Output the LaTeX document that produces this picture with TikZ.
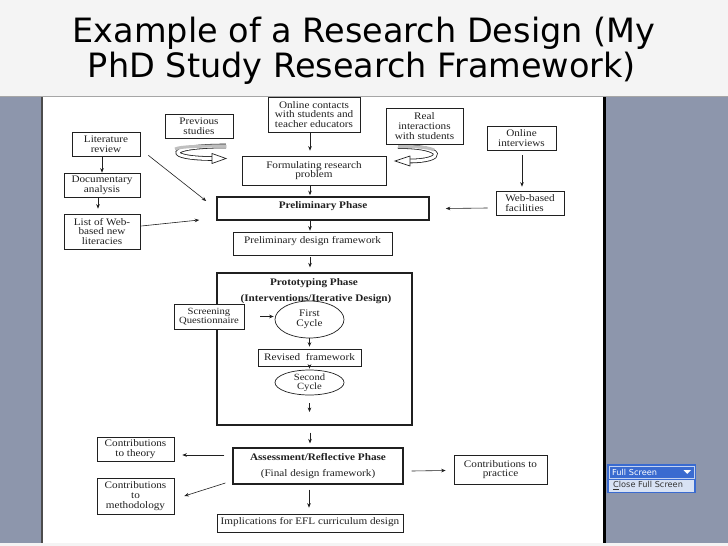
\documentclass[tikz,border=0pt]{standalone}
\usepackage{fontspec}
\setmainfont{Liberation Serif}
\newfontfamily\titlefont{DejaVu Sans}
\newfontfamily\df[FakeStretch=1.12]{Liberation Serif}
\newfontfamily\uifont{DejaVu Sans}
\usetikzlibrary{arrows.meta,calc,shapes.geometric}
\definecolor{slate}{HTML}{8D96AC}
\definecolor{titlebg}{HTML}{F4F4F4}
\definecolor{ink}{HTML}{202020}
\definecolor{uiblue}{HTML}{3A6BD0}
\definecolor{uilight}{HTML}{D8E2F4}
\begin{document}
\begin{tikzpicture}[x=1pt,y=-1pt,
  box/.style={draw=ink, line width=0.7pt, fill=white, inner sep=1pt, align=center,
    font=\df\fontsize{10}{9.8}\selectfont, text=ink},
  ell/.style={box, ellipse},
  lbl/.style={inner sep=0pt, align=center, font=\df\fontsize{10}{9.8}\selectfont, text=ink},
  arr/.style={-{Stealth[length=4.5pt,width=3.6pt]}, line width=0.6pt, draw=ink},
  ribbon/.style={line width=4.6pt, draw=ink, line cap=butt},
  ribbonin/.style={line width=3pt, draw=white, line cap=butt},
  head/.style={fill=white, draw=ink, line width=0.7pt, line join=miter}
]
\useasboundingbox (0,0) rectangle (728,546);
% backgrounds
\fill[titlebg] (0,0) rectangle (728,96);
\fill[slate] (0,96) rectangle (728,543);
\fill[titlebg] (0,543) rectangle (728,546);
\fill[white] (43,96) rectangle (603,543);
\draw[line width=1.5pt, black!70] (42,96) -- (42,543);
\draw[line width=2.5pt, black] (604.5,96) -- (604.5,543);
\draw[line width=0.6pt, black!35] (0,96) -- (728,96);
% title
\node[anchor=base, inner sep=0pt, font=\titlefont\fontsize{33.5}{38}\selectfont] (t1) at (364,42) {Example of a Research Design (My};
\node[anchor=base, inner sep=0pt, font=\titlefont\fontsize{33.5}{38}\selectfont] (t2) at (362,77) {PhD Study Research Framework)};

% left column
\node[box, minimum width=68pt, minimum height=24pt] (lit) at (106,144) {Literature\\review};
\node[box, minimum width=76pt, minimum height=24pt] (doc) at (102,185) {Documentary\\analysis};
\node[box, minimum width=76pt, minimum height=35pt] (list) at (102,231.5) {List of Web-\\based new\\literacies};
\node[box, minimum width=68pt, minimum height=24pt] (prev) at (199,126) {Previous\\studies};

% centre column
\node[box, minimum width=92pt, minimum height=35pt] (oc) at (314,114.5) {Online contacts\\with students and\\teacher educators};
\node[box, minimum width=144pt, minimum height=29pt] (form) at (314,170.5) {Formulating research\\problem};
\node[box, line width=1.6pt, minimum width=212pt, minimum height=23pt, text depth=7pt, font=\df\fontsize{10}{9.8}\selectfont\bfseries] (prelim) at (323,208.5) {Preliminary Phase};
\node[box, minimum width=159pt, minimum height=23pt, text depth=7pt] (pdf) at (312.5,243.5) {Preliminary design framework};

% right column
\node[box, minimum width=77pt, minimum height=36pt] (real) at (424.5,126) {Real\\interactions\\with students};
\node[box, minimum width=69pt, minimum height=24pt] (oi) at (521.5,138) {Online\\interviews};
\node[box, minimum width=68pt, minimum height=24pt, align=left] (web) at (530,203) {Web-based\\facilities};

% prototyping phase
\node[draw=ink, line width=1.3pt, minimum width=195pt, minimum height=152pt] (proto) at (314.5,349) {};
\node[lbl, font=\df\fontsize{10}{9.8}\selectfont\bfseries] (ptitle) at (314,283) {Prototyping Phase};
\node[lbl, font=\df\fontsize{10}{9.8}\selectfont\bfseries] (psub) at (316,299) {(Interventions/Iterative Design)};
\node[box, minimum width=70pt, minimum height=25pt, font=\df\fontsize{9.5}{8.8}\selectfont] (scr) at (209,316.5) {Screening\\Questionnaire};
\node[ell, minimum width=69pt, minimum height=37pt, inner sep=0pt] (first) at (309.5,319.5) {First\\Cycle};
\node[box, minimum width=103pt, minimum height=17pt] (rev) at (309.5,357.5) {Revised\ \ framework};
\node[ell, minimum width=69pt, minimum height=25pt, inner sep=0pt, font=\df\fontsize{9.5}{8.8}\selectfont] (second) at (309.5,382.5) {Second\\Cycle};
\coordinate (scend) at (309.5,412);

% assessment
\node[box, line width=1.2pt, minimum width=170pt, minimum height=36pt] (assess) at (318,466)
  {\textbf{Assessment/Reflective Phase}\\[7pt](Final design framework)};
\node[box, minimum width=77pt, minimum height=24pt] (ct) at (135.5,449) {Contributions\\to theory};
\node[box, minimum width=77pt, minimum height=36pt] (cm) at (135.5,496) {Contributions\\to\\methodology};
\node[box, minimum width=93pt, minimum height=29pt] (cp) at (500.5,469.5) {Contributions to\\practice};
\node[box, minimum width=186pt, minimum height=18pt, text depth=5pt] (impl) at (310,523) {Implications for EFL curriculum design};

% arrows
\draw[arr] (lit.south -| doc.north) -- (doc.north);
\draw[arr] ($(doc.south)+(-4,0)$) -- ($(list.north)+(-4,-5)$);
\draw[arr] ($(lit.south east)+(8,-1)$) -- ($(prelim.west)+(-10,-7.5)$);
\draw[arr] ($(list.east)+(1,-5.5)$) -- ($(prelim.west)+(-17,11.5)$);
\draw[arr] ($(oc.south)+(-4,1)$) -- ($(form.north)+(-4,-5)$);
\draw[arr] ($(form.south)+(-4,0)$) -- ($(prelim.north)+(-13,-1)$);
\draw[arr] ($(prelim.south)+(-13,0)$) -- ($(pdf.north)+(-2.5,-1)$);
\draw[arr] ($(pdf.south)+(-2.5,2)$) -- ($(proto.north)+(-4.5,-5)$);
\draw[arr] ($(oi.south)+(0.5,5)$) -- ($(web.north)+(-8,-4)$);
\draw[arr] ($(web.west)+(-8,5)$) -- ($(prelim.east)+(16,0)$);
\draw[arr] ($(scr.east)+(16,0)$) -- ($(first.west)+(-1,-3)$);
\draw[arr] (first.south) -- ($(rev.north)+(0,-2)$);
\draw[arr] (rev.south) -- ($(second.north)+(0,-1)$);
\draw[arr] ($(second.south)+(0,8)$) -- (scend);
\draw[arr] ($(proto.south)+(-4.5,7)$) -- ($(assess.north)+(-8,-4)$);
\draw[arr] ($(assess.west)+(-8,-11)$) -- ($(ct.east)+(8,6)$);
\draw[arr] ($(assess.west)+(-7,17)$) -- ($(cm.east)+(10,0)$);
\draw[arr] ($(assess.east)+(8,5)$) -- ($(cp.west)+(-8,1)$);
\draw[arr] ($(assess.south)+(-9,5)$) -- ($(impl.north)+(-1,-6)$);

% hollow curved arrows
\draw[ribbon] (226,146) .. controls (163,146) and (165,158.5) .. (213,158.5);
\draw[ribbonin] (226,146) .. controls (163,146) and (165,158.5) .. (213,158.5);
\draw[line width=3pt, draw=black!25, line cap=butt] (226,146) .. controls (200,146) and (180,146.5) .. (175,149);
\draw[head] (212,153.5) -- (226,158.5) -- (212,163.5) -- cycle;
\draw[ribbon] (398,146.5) .. controls (446,146.5) and (446,161) .. (409,161);
\draw[ribbonin] (398,146.5) .. controls (446,146.5) and (446,161) .. (409,161);
\draw[line width=3pt, draw=black!25, line cap=butt] (398,146.5) .. controls (415,146.5) and (428,147) .. (434,150);
\draw[head] (410,156) -- (395,161) -- (410,166) -- cycle;

% Full Screen widget
\fill[uiblue] (607,464) rectangle (696,493);
\draw[white!70!uiblue, line width=0.6pt] (609,466) rectangle (694,478);
\fill[uilight] (609,479.5) rectangle (694,491.5);
\node[anchor=west, inner sep=0pt, text=white, font=\uifont\fontsize{8.2}{9}\selectfont] (fs) at (612,472) {Full Screen};
\fill[white] (683.5,470) -- (691,470) -- (687.25,473.8) -- cycle;
\node[anchor=west, inner sep=0pt, text=black!80, font=\uifont\fontsize{8.2}{9}\selectfont] (cfs) at (613,485.5) {\underline{C}lose Full Screen};
\end{tikzpicture}
\end{document}
